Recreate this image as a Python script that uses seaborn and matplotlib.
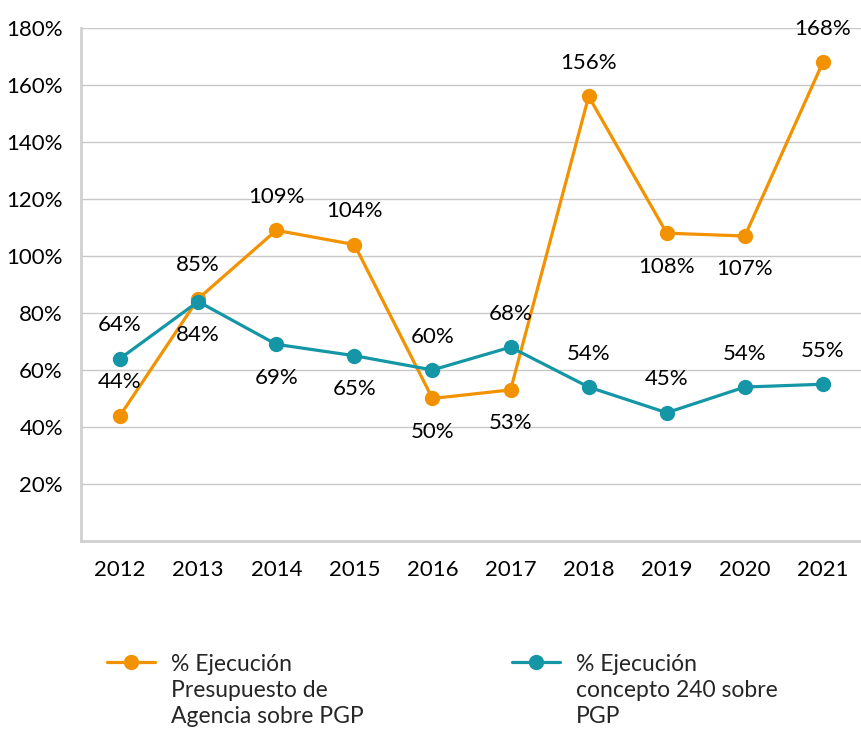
import numpy as np
import pandas as pd
import matplotlib
matplotlib.use("Agg")
import matplotlib.pyplot as plt
import seaborn as sns
from matplotlib.ticker import FuncFormatter

years = ["2012", "2013", "2014", "2015", "2016", "2017", "2018", "2019", "2020", "2021"]
agencia = [44, 85, 109, 104, 50, 53, 156, 108, 107, 168]
concepto = [64, 84, 69, 65, 60, 68, 54, 45, 54, 55]
# label above (1) or below (-1) the point
agencia_pos = [1, 1, 1, 1, -1, -1, 1, -1, -1, 1]
concepto_pos = [1, -1, -1, -1, 1, 1, 1, 1, 1, 1]

label_a = "% Ejecución\nPresupuesto de\nAgencia sobre PGP"
label_c = "% Ejecución\nconcepto 240 sobre\nPGP"
orange = "#F39200"
teal = "#1496A6"

df = pd.DataFrame({"idx": range(len(years)), "agencia": agencia, "concepto": concepto})

sns.set_style("white")
plt.rcParams["font.family"] = ["Lato", "DejaVu Sans"]

fig = plt.figure(figsize=(8.62, 7.31), dpi=100)
ax = fig.add_axes([0.094, 0.26, 0.906, 0.7017])

sns.lineplot(data=df, x="idx", y="agencia", ax=ax, color=orange, linewidth=2.3,
             marker="o", markersize=11, markeredgewidth=0, label=label_a, legend=False)
sns.lineplot(data=df, x="idx", y="concepto", ax=ax, color=teal, linewidth=2.3,
             marker="o", markersize=11, markeredgewidth=0, label=label_c, legend=False)

for i in range(len(years)):
    ax.annotate(f"{agencia[i]}%", (i, agencia[i]), xytext=(0, 24 * agencia_pos[i]),
                textcoords="offset points", ha="center", va="center", fontsize=16, color="black")
    ax.annotate(f"{concepto[i]}%", (i, concepto[i]), xytext=(0, 24 * concepto_pos[i]),
                textcoords="offset points", ha="center", va="center", fontsize=16, color="black")

ax.set_xlim(-0.5, len(years) - 0.5)
ax.set_ylim(0, 180)
ax.set_yticks(range(20, 181, 20))
ax.yaxis.set_major_formatter(FuncFormatter(lambda v, p: f"{int(v)}%"))
ax.set_xticks(range(len(years)))
ax.set_xticklabels(years)
ax.tick_params(axis="both", labelsize=16, length=0, colors="black")
ax.tick_params(axis="x", pad=14)
ax.tick_params(axis="y", pad=13)
ax.set_xlabel("")
ax.set_ylabel("")
ax.grid(axis="y", color="#C8C8C8", linewidth=1)
for s in ["top", "right"]:
    ax.spines[s].set_visible(False)
for s in ["left", "bottom"]:
    ax.spines[s].set_color("#D0D0D0")
    ax.spines[s].set_linewidth(2)

handles, labels = ax.get_legend_handles_labels()
for h, l, x0 in zip(handles, labels, [0.124, 0.594]):
    leg = fig.legend([h], [l], loc="upper left", bbox_to_anchor=(x0, 0.105),
                     frameon=False, fontsize=16.5, handlelength=2.1, handletextpad=0.7,
                     borderpad=0, borderaxespad=0)
    for t in leg.get_texts():
        t.set_linespacing(1.3)
    for col in leg._legend_handle_box.get_children():
        for row in col.get_children():
            row.align = "top"

fig.savefig("out.png", dpi=100)
